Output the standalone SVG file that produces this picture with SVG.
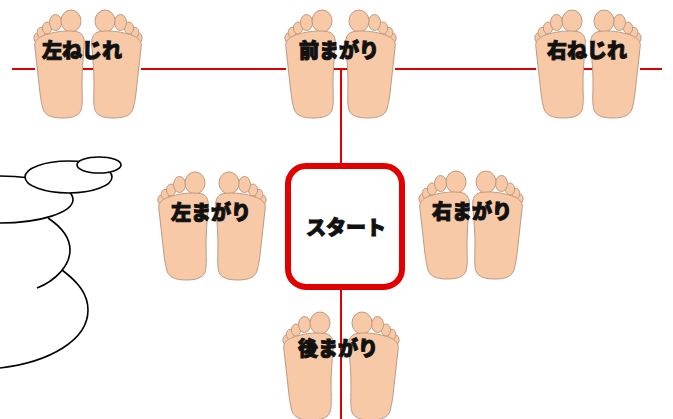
<svg xmlns="http://www.w3.org/2000/svg" xmlns:xlink="http://www.w3.org/1999/xlink" width="673" height="419" viewBox="0 0 673 419">
  <style>
    .foot { fill: #F8C9A6; stroke: #BE9A82; stroke-width: 1; }
    .wire { stroke: #E00000; stroke-width: 2; fill: none; }
    .label { font-family: "Noto Sans CJK JP", "Noto Sans", sans-serif; font-weight: 900; font-size: 20px; fill: #111; stroke: #111; stroke-width: 1; text-anchor: middle; }
    .sketch { fill: #fff; stroke: #000; stroke-width: 1.6; }
    .sketch-open { fill: none; stroke: #000; stroke-width: 1.6; }
  </style>
  <defs>
    <!-- sole seen from below, big toe on the right -->
    <g id="foot">
      <ellipse class="foot" cx="3.5" cy="28" rx="3.6" ry="5"/>
      <ellipse class="foot" cx="7" cy="22.5" rx="3.8" ry="5.2"/>
      <ellipse class="foot" cx="13" cy="18" rx="4.6" ry="6"/>
      <ellipse class="foot" cx="21.5" cy="12.5" rx="6" ry="8"/>
      <ellipse class="foot" cx="37" cy="11" rx="10" ry="11"/>
      <path class="foot" d="M1,38 C-1,30 6,26 14,24 C24,21 36,20 44,22 C50,24 51,30 50,38 C49,50 48,62 48,72 C48,84 49,94 47,100 C45,106 38,108 28,108 C17,108 11,105 9,99 C7,92 6,84 5,74 C4,62 2,50 1,38 Z"/>
    </g>
  </defs>

  <rect width="673" height="419" fill="#fff"/>

  <g id="connectors">
    <!-- horizontal rail, broken where the feet sit -->
    <path class="wire" d="M12,69 H35 M83,69 H93 M141,69 H286 M334,69 H347 M395,69 H536 M584,69 H592 M640,69 H662"/>
    <line class="wire" x1="341" y1="69" x2="341" y2="166"/>
    <line class="wire" x1="341" y1="287" x2="341" y2="419"/>
  </g>

  <g id="left-twist">
    <use xlink:href="#foot" transform="translate(34,10)"/>
    <use xlink:href="#foot" transform="translate(142,10) scale(-1,1)"/>
    <text class="label" x="82" y="58">左ねじれ</text>
  </g>

  <g id="forward-bend">
    <use xlink:href="#foot" transform="translate(285,10)"/>
    <use xlink:href="#foot" transform="translate(396,10) scale(-1,1)"/>
    <text class="label" x="339" y="58">前まがり</text>
  </g>

  <g id="right-twist">
    <use xlink:href="#foot" transform="translate(535,10)"/>
    <use xlink:href="#foot" transform="translate(641,10) scale(-1,1)"/>
    <text class="label" x="587" y="58">右ねじれ</text>
  </g>

  <g id="left-bend">
    <use xlink:href="#foot" transform="translate(158,172)"/>
    <use xlink:href="#foot" transform="translate(266,172) scale(-1,1)"/>
    <text class="label" x="211" y="220">左まがり</text>
  </g>

  <g id="right-bend">
    <use xlink:href="#foot" transform="translate(419,171)"/>
    <use xlink:href="#foot" transform="translate(523,171) scale(-1,1)"/>
    <text class="label" x="472" y="219">右まがり</text>
  </g>

  <g id="backward-bend">
    <use xlink:href="#foot" transform="translate(283,312)"/>
    <use xlink:href="#foot" transform="translate(399,312) scale(-1,1)"/>
    <text class="label" x="338" y="356">後まがり</text>
  </g>

  <g id="start">
    <rect x="288" y="166" width="114" height="121" rx="18" fill="#fff" stroke="#E00000" stroke-width="6"/>
    <text class="label" x="346" y="235">スタート</text>
  </g>

  <!-- line sketch on the left edge -->
  <g id="sketch">
    <ellipse class="sketch" cx="0" cy="199.5" rx="73" ry="23.5"/>
    <path class="sketch-open" d="M48,218 C60,226 70,236 70,250 C70,266 55,281 37,288"/>
    <path class="sketch-open" d="M62,270 C78,282 88,294 88,310 C88,340 50,362 0,368"/>
    <ellipse class="sketch" cx="68.5" cy="177" rx="43.5" ry="16"/>
    <ellipse class="sketch" cx="99" cy="165" rx="22" ry="8"/>
  </g>
</svg>
